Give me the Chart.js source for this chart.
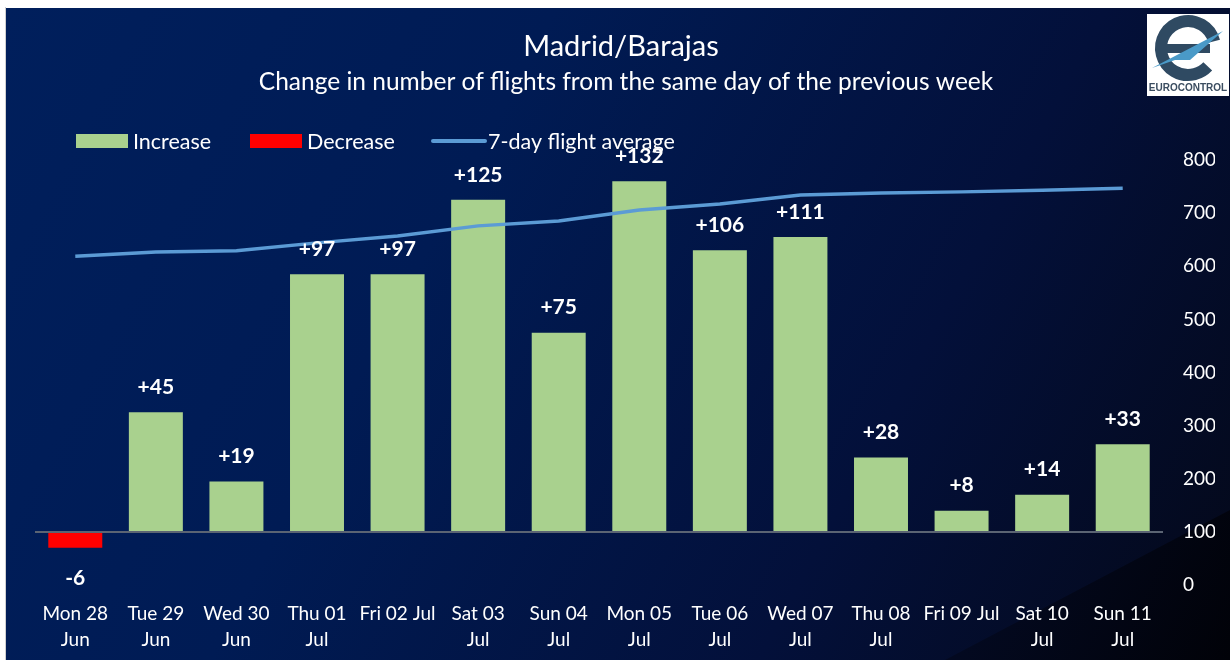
<!DOCTYPE html>
<html>
<head>
<meta charset="utf-8">
<title>Madrid/Barajas</title>
<script src="https://cdn.jsdelivr.net/npm/chart.js@4"></script>
<style>
    html, body { margin: 0; padding: 0; background: #fff; }
    #chart-box { width: 1230px; height: 660px; }
</style>
</head>
<body>
<div id="chart-box">
    <canvas id="flight-change" width="1230" height="660"></canvas>
</div>
<script>

// data
const dayLabels = [
    ['Mon 28', 'Jun'], ['Tue 29', 'Jun'], ['Wed 30', 'Jun'], ['Thu 01', 'Jul'],
    'Fri 02 Jul', ['Sat 03', 'Jul'], ['Sun 04', 'Jul'], ['Mon 05', 'Jul'],
    ['Tue 06', 'Jul'], ['Wed 07', 'Jul'], ['Thu 08', 'Jul'], 'Fri 09 Jul',
    ['Sat 10', 'Jul'], ['Sun 11', 'Jul']
];
const flightChange = [-6, 45, 19, 97, 97, 125, 75, 132, 106, 111, 28, 8, 14, 33];
const weekAverage = [619, 627, 629, 644, 657, 676, 685, 706, 717, 734, 738, 740, 743, 747];

const increaseValues = flightChange.map(v => v >= 0 ? v : null);
const decreaseValues = flightChange.map(v => v < 0 ? v : null);

const FONT = 'Lato, "Open Sans", sans-serif';
const GREEN = '#a9d18e';
const RED = '#ff0000';
const BLUE = '#5b9bd5';

// background panel, title, legend, logo
const decorPlugin = {
    id: 'decor',
    beforeDraw(chart) {
        const ctx = chart.ctx;
        const w = chart.width, h = chart.height;
        ctx.save();
        ctx.fillStyle = '#ffffff';
        ctx.fillRect(0, 0, w, h);
        ctx.fillStyle = '#d0d0d0';
        ctx.fillRect(5, 7, 1, h - 7);

        let grad = ctx.createLinearGradient(6, 8, w, h);
        grad.addColorStop(0, '#001f5c');
        grad.addColorStop(0.35, '#001b54');
        grad.addColorStop(0.7, '#03103a');
        grad.addColorStop(1, '#040818');
        ctx.fillStyle = grad;
        ctx.fillRect(6, 8, w - 6, h - 8);

        // darker corner band bottom right
        let grad2 = ctx.createLinearGradient(1000, 560, w, h);
        grad2.addColorStop(0, '#030920');
        grad2.addColorStop(1, '#010208');
        ctx.fillStyle = grad2;
        ctx.beginPath();
        ctx.moveTo(w, 510);
        ctx.lineTo(w, h);
        ctx.lineTo(945, h);
        ctx.closePath();
        ctx.fill();

        // titles
        ctx.fillStyle = '#ffffff';
        ctx.textAlign = 'center';
        ctx.textBaseline = 'middle';
        ctx.font = '29px ' + FONT;
        ctx.fillText('Madrid/Barajas', 621, 47);
        ctx.font = '24.5px ' + FONT;
        ctx.fillText('Change in number of flights from the same day of the previous week', 626, 82);

        // legend
        const items = [
            { text: 'Increase', color: GREEN, type: 'box', x: 76 },
            { text: 'Decrease', color: RED, type: 'box', x: 250 },
            { text: '7-day flight average', color: BLUE, type: 'line', x: 431 }
        ];
        ctx.font = '21.5px ' + FONT;
        ctx.textAlign = 'left';
        const y = 141;
        items.forEach(item => {
            const x = item.x;
            if (item.type === 'box') {
                ctx.fillStyle = item.color;
                ctx.fillRect(x, y - 7, 52, 14);
            } else {
                ctx.strokeStyle = item.color;
                ctx.lineWidth = 4;
                ctx.lineCap = 'round';
                ctx.beginPath();
                ctx.moveTo(x + 2, y);
                ctx.lineTo(x + 54, y);
                ctx.stroke();
            }
            ctx.fillStyle = '#ffffff';
            ctx.fillText(item.text, x + 57, y + 1);
        });

        // logo
        ctx.fillStyle = '#ffffff';
        ctx.fillRect(1147, 14, 82, 82);
        ctx.strokeStyle = '#2f4a62';
        ctx.lineWidth = 12;
        ctx.lineCap = 'butt';
        ctx.beginPath();
        ctx.arc(1188, 48, 27, -0.25, 0.75, true);
        ctx.stroke();
        ctx.fillStyle = '#2f4a62';
        ctx.fillRect(1162, 44, 48, 9);
        ctx.fillStyle = '#4a9ac8';
        ctx.beginPath();
        ctx.moveTo(1152, 68);
        ctx.lineTo(1223, 31);
        ctx.lineTo(1190, 60);
        ctx.lineTo(1175, 60);
        ctx.closePath();
        ctx.fill();
        ctx.fillStyle = '#3b4d60';
        ctx.font = 'bold 10px "Liberation Sans Narrow", "Liberation Sans", sans-serif';
        ctx.textAlign = 'center';
        ctx.fillText('EUROCONTROL', 1188, 88);
        ctx.restore();
    },
    afterDatasetsDraw(chart) {
        // value labels over / under bars
        const ctx = chart.ctx;
        const xs = chart.scales.x, ys = chart.scales.y;
        ctx.save();
        ctx.fillStyle = '#ffffff';
        ctx.font = 'bold 21px ' + FONT;
        ctx.textAlign = 'center';
        ctx.textBaseline = 'middle';
        flightChange.forEach((v, i) => {
            const px = xs.getPixelForValue(i);
            const py = ys.getPixelForValue(v);
            const txt = v >= 0 ? '+' + v : String(v);
            ctx.fillText(txt, px, v >= 0 ? py - 25 : py + 30);
        });
        ctx.restore();
    }
};

const flightChangeConfig = {
    type: 'bar',
    data: {
        labels: dayLabels,
        datasets: [
            {
                label: 'Increase',
                data: increaseValues,
                backgroundColor: GREEN,
                stack: 'change',
                yAxisID: 'y',
                order: 1,
                categoryPercentage: 1,
                barPercentage: 0.67,
            },
            {
                label: 'Decrease',
                data: decreaseValues,
                backgroundColor: RED,
                stack: 'change',
                yAxisID: 'y',
                order: 1,
                categoryPercentage: 1,
                barPercentage: 0.67,
            },
            {
                type: 'line',
                label: '7-day flight average',
                data: weekAverage,
                borderColor: BLUE,
                backgroundColor: BLUE,
                borderWidth: 3.5,
                pointRadius: 0,
                tension: 0,
                yAxisID: 'y1',
                order: 0,
            }
        ]
    },
    options: {
        responsive: false,
        animation: false,
        layout: {
            padding: { left: 35, right: 15, top: 160, bottom: 0 }
        },
        plugins: {
            legend: { display: false },
            title: { display: false },
            tooltip: { enabled: false },
        },
        scales: {
            x: {
                stacked: true,
                offset: true,
                grid: { display: false },
                border: { display: false },
                ticks: {
                    color: '#ffffff',
                    font: { family: FONT, size: 19, lineHeight: 1.37 },
                    padding: 8,
                    maxRotation: 0,
                    autoSkip: false,
                },
                afterFit(scale) {
                    scale.height = 75;
                },
            },
            y: {
                position: 'left',
                stacked: true,
                min: -20,
                max: 140,
                ticks: { display: false, stepSize: 20 },
                grid: {
                    drawTicks: false,
                    // only the zero line is shown
                    color: ctx => ctx.tick && ctx.tick.value === 0 ? '#5b6473' : 'rgba(0,0,0,0)',
                    lineWidth: 2,
                },
                border: { display: false },
            },
            y1: {
                position: 'right',
                min: 0,
                max: 800,
                ticks: {
                    stepSize: 100,
                    color: '#ffffff',
                    font: { family: FONT, size: 19 },
                    padding: 20,
                },
                grid: { display: false, drawTicks: false },
                border: { display: false },
                afterFit(scale) {
                    scale.width = 52;
                },
            },
        }
    },
    plugins: [decorPlugin]
};

const flightChangeChart = new Chart(
    document.getElementById('flight-change'),
    flightChangeConfig
);
</script>
</body>
</html>
